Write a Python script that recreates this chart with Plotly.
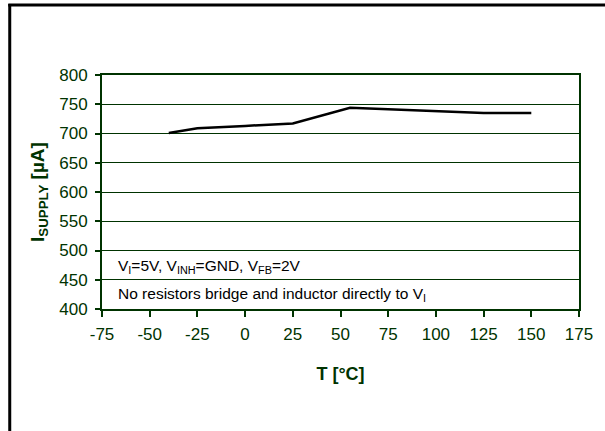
import plotly.graph_objects as go

temps = [-40, -25, 0, 25, 55, 90, 125, 150]
isupply = [701, 709, 713, 717, 744, 739, 735, 735]
x_ticks = [-75, -50, -25, 0, 25, 50, 75, 100, 125, 150, 175]
y_ticks = [400, 450, 500, 550, 600, 650, 700, 750, 800]

GREEN = "#003300"
FONT = "Liberation Sans, Arial, sans-serif"
W, H = 605, 431
L, R, T, B = 102, 588, 75, 309

fig = go.Figure()
fig.add_trace(go.Scatter(x=temps, y=isupply, mode="lines",
                         line=dict(color="black", width=2.5), showlegend=False))

fig.update_layout(
    width=W, height=H,
    margin=dict(l=L, r=W - R, t=T, b=H - B, pad=0),
    paper_bgcolor="white", plot_bgcolor="white",
    font=dict(family=FONT, color=GREEN, size=17),
)
fig.update_xaxes(range=[-75, 175], tickvals=x_ticks, ticktext=[str(v) for v in x_ticks],
                 showgrid=False, zeroline=False, showline=True, linecolor=GREEN, linewidth=2,
                 mirror=True, ticks="outside", ticklen=6, tickcolor=GREEN, tickwidth=1.5,
                 ticklabelstandoff=3,
                 tickfont=dict(size=17, color=GREEN, family=FONT),
                 title=dict(text="<b>T [°C]</b>", font=dict(size=18, color=GREEN, family=FONT),
                            standoff=24))
fig.update_yaxes(range=[400, 800], tickvals=y_ticks, ticktext=[str(v) for v in y_ticks],
                 showgrid=True, gridcolor=GREEN, gridwidth=1.3, zeroline=False,
                 showline=True, linecolor=GREEN, linewidth=2, mirror=True,
                 ticks="outside", ticklen=5, tickcolor=GREEN, tickwidth=1.5,
                 ticklabelstandoff=4,
                 tickfont=dict(size=17, color=GREEN, family=FONT),
                 title=dict(text="<b>I<sub>SUPPLY</sub> [µA]</b>",
                            font=dict(size=19, color=GREEN, family=FONT), standoff=10))

px = lambda x: (x - L) / (R - L)
py = lambda y: (B - y) / (B - T)

fig.add_annotation(xref="paper", yref="paper", x=px(116), y=py(266),
                   xanchor="left", yanchor="middle", showarrow=False,
                   text="V<sub>I</sub>=5V, V<sub>INH</sub>=GND, V<sub>FB</sub>=2V",
                   font=dict(size=15.5, color="black", family=FONT))
fig.add_annotation(xref="paper", yref="paper", x=px(116), y=py(294),
                   xanchor="left", yanchor="middle", showarrow=False,
                   text="No resistors bridge and inductor directly to V<sub>I</sub>",
                   font=dict(size=15.5, color="black", family=FONT))

# outer frame (left and top edges visible)
fig.add_shape(type="line", xref="paper", yref="paper", x0=px(8), x1=px(8), y0=py(4), y1=py(440),
              line=dict(color="black", width=3), layer="above")
fig.add_shape(type="line", xref="paper", yref="paper", x0=px(6.5), x1=px(620), y0=py(5), y1=py(5),
              line=dict(color="black", width=3), layer="above")

fig.write_html("out.html")
